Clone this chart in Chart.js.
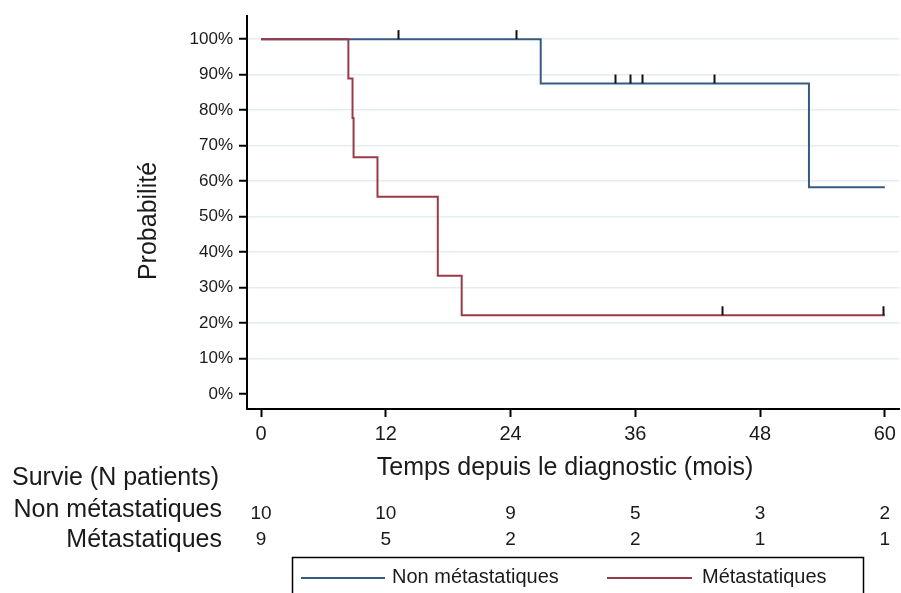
<!DOCTYPE html>
<html>
<head>
<meta charset="utf-8">
<script src="https://cdn.jsdelivr.net/npm/chart.js@4"></script>
<style>
  body { margin: 0; background: #fff; }
  #wrap { width: 901px; height: 593px; }
</style>
</head>
<body>
<div id="wrap"><canvas id="kmChart" width="901" height="593"></canvas></div>
<script>
// Kaplan-Meier steps (time in months, survival in %)
const timesNonMeta = [0, 26.9, 52.7, 60];
const survNonMeta = [100, 87.5, 58.3, 58.3];
const censorNonMeta = [13.2, 24.5, 34.0, 35.5, 36.6, 43.6];

const timesMeta = [0, 8.4, 8.8, 8.9, 11.2, 17.0, 19.3, 60];
const survMeta = [100, 88.9, 77.8, 66.7, 55.6, 33.3, 22.2, 22.2];
const censorMeta = [44.3, 59.8];

// number at risk table
const riskTimes = [0, 12, 24, 36, 48, 60];
const riskNonMeta = [10, 10, 9, 5, 3, 2];
const riskMeta = [9, 5, 2, 2, 1, 1];

const xTicks = [0, 12, 24, 36, 48, 60];
const yTicks = [0, 10, 20, 30, 40, 50, 60, 70, 80, 90, 100];

const groupLabels = ['Non métastatiques', 'Métastatiques'];
const blue = '#375a82';
const red = '#9a3a46';
const txt = '#1a1a1a';
const font = '"Liberation Sans", Arial, sans-serif';

const toPoints = (t, s) => t.map((v, i) => ({ x: v, y: s[i] }));

// survival value at time t for a step curve
const survAt = (times, surv, t) => {
    let v = surv[0];
    times.forEach((tt, i) => { if (tt <= t) v = surv[i]; });
    return v;
};

// censor marks, axis titles, number-at-risk table and the boxed legend
const kmExtras = {
    id: 'kmExtras',
    afterDatasetsDraw(chart) {
        const { ctx, scales: { x, y } } = chart;
        ctx.save();
        ctx.strokeStyle = '#111';
        ctx.lineWidth = 2;
        const marks = (censor, times, surv) => {
            censor.forEach(t => {
                const px = Math.round(x.getPixelForValue(t)) + 0.5;
                const py = y.getPixelForValue(survAt(times, surv, t));
                ctx.beginPath();
                ctx.moveTo(px, py);
                ctx.lineTo(px, py - 9);
                ctx.stroke();
            });
        };
        marks(censorNonMeta, timesNonMeta, survNonMeta);
        marks(censorMeta, timesMeta, survMeta);
        ctx.restore();
    },
    afterDraw(chart) {
        const { ctx, scales: { x } } = chart;
        ctx.save();
        ctx.fillStyle = txt;
        ctx.textBaseline = 'alphabetic';

        // axis titles
        ctx.font = '25px ' + font;
        ctx.textAlign = 'center';
        ctx.fillText('Temps depuis le diagnostic (mois)', 565, 475);
        ctx.save();
        ctx.translate(156, 221);
        ctx.rotate(-Math.PI / 2);
        ctx.fillText('Probabilité', 0, 0);
        ctx.restore();

        ctx.font = '25px ' + font;
        ctx.textAlign = 'left';
        ctx.fillText('Survie (N patients)', 12, 485);
        ctx.textAlign = 'right';
        ctx.fillText(groupLabels[0], 222, 517);
        ctx.fillText(groupLabels[1], 222, 547);

        ctx.font = '19px ' + font;
        ctx.textAlign = 'center';
        riskTimes.forEach((t, i) => {
            const px = x.getPixelForValue(t);
            ctx.fillText(String(riskNonMeta[i]), px, 519);
            ctx.fillText(String(riskMeta[i]), px, 545);
        });

        // legend box
        ctx.strokeStyle = '#000';
        ctx.lineWidth = 1.5;
        ctx.strokeRect(292.5, 557.5, 571, 60);
        ctx.lineWidth = 2;
        ctx.strokeStyle = blue;
        ctx.beginPath(); ctx.moveTo(301, 578); ctx.lineTo(385, 578); ctx.stroke();
        ctx.strokeStyle = red;
        ctx.beginPath(); ctx.moveTo(607, 578); ctx.lineTo(692, 578); ctx.stroke();
        ctx.font = '20px ' + font;
        ctx.textAlign = 'left';
        ctx.fillText(groupLabels[0], 392, 583);
        ctx.fillText(groupLabels[1], 702, 583);
        ctx.restore();
    }
};

const initKMChart = () => {
    const ctx = document.getElementById('kmChart').getContext('2d');
    new Chart(ctx, {
        type: 'line',
        data: {
            datasets: [{
                label: groupLabels[0],
                data: toPoints(timesNonMeta, survNonMeta),
                borderColor: blue,
                borderWidth: 2,
                stepped: true,
                pointRadius: 0,
                order: 1
            }, {
                label: groupLabels[1],
                data: toPoints(timesMeta, survMeta),
                borderColor: red,
                borderWidth: 2,
                stepped: true,
                pointRadius: 0,
                order: 0
            }]
        },
        options: {
            responsive: false,
            animation: false,
            devicePixelRatio: 1,
            layout: { padding: { left: 0, top: 15, right: 1, bottom: 112 } },
            plugins: { legend: { display: false }, tooltip: { enabled: false } },
            scales: {
                x: {
                    type: 'linear',
                    min: -1.35,
                    max: 61.4,
                    afterFit: s => { s.height = 72; },
                    afterBuildTicks: s => { s.ticks = xTicks.map(v => ({ value: v })); },
                    grid: { drawOnChartArea: false, tickColor: '#000', tickLength: 8, tickWidth: 2 },
                    border: { color: '#000', width: 2 },
                    ticks: { color: txt, font: { family: font, size: 20 }, padding: 5, maxRotation: 0 }
                },
                y: {
                    min: -4.21,
                    max: 106.46,
                    afterFit: s => { s.width = 247; },
                    afterBuildTicks: s => { s.ticks = yTicks.map(v => ({ value: v })); },
                    grid: {
                        color: c => (c.tick && c.tick.value === 0) ? 'rgba(0,0,0,0)' : '#e4edf1',
                        lineWidth: 1.5,
                        tickColor: '#000',
                        tickLength: 8,
                        tickWidth: 2
                    },
                    border: { color: '#000', width: 2 },
                    ticks: {
                        color: txt,
                        font: { family: font, size: 17 },
                        padding: 6,
                        callback: v => v + '%'
                    }
                }
            }
        },
        plugins: [kmExtras]
    });
};

document.addEventListener('DOMContentLoaded', initKMChart);
</script>
</body>
</html>
